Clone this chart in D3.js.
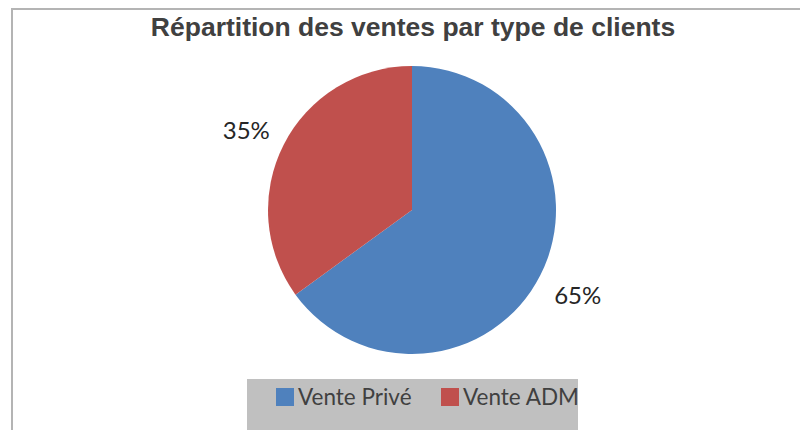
<!DOCTYPE html>
<html>
<head>
<meta charset="utf-8">
<script src="https://cdn.jsdelivr.net/npm/d3@7"></script>
<style>
  html, body { margin: 0; padding: 0; background: #fff; }
  svg { display: block; }
</style>
</head>
<body>
<svg id="chart" width="800" height="430"></svg>
<script>
const title = "Répartition des ventes par type de clients";
const categories = ["Vente Privé", "Vente ADM"];
const values = [65, 35];
const labels = ["65%", "35%"];
const colors = ["#4F81BD", "#C0504D"];

const svg = d3.select("#chart");

// chart border (top and left visible)
svg.append("path")
  .attr("d", "M12,430 L12,9 L800,9")
  .attr("fill", "none")
  .attr("stroke", "#b4b4b4")
  .attr("stroke-width", 2);

svg.append("text")
  .attr("x", 413).attr("y", 36)
  .attr("text-anchor", "middle")
  .attr("font-family", "Liberation Sans, Arial, sans-serif")
  .attr("font-weight", "bold")
  .attr("font-size", 26.5)
  .attr("fill", "#404040")
  .text(title);

const cx = 412, cy = 210, r = 144;
const pie = d3.pie().sort(null).value(d => d)(values);
const arc = d3.arc().innerRadius(0).outerRadius(r);
const labelArc = d3.arc().innerRadius(186).outerRadius(186);

const g = svg.append("g").attr("transform", `translate(${cx},${cy})`);
g.selectAll("path.slice").data(pie).join("path")
  .attr("class", "slice")
  .attr("d", arc)
  .attr("fill", (d, i) => colors[i]);

g.selectAll("text.lbl").data(pie).join("text")
  .attr("class", "lbl")
  .attr("transform", d => `translate(${labelArc.centroid(d)})`)
  .attr("text-anchor", "middle")
  .attr("dy", (d, i) => i === 1 ? "0.55em" : "0.4em")
  .attr("font-family", "Lato, 'Open Sans', sans-serif")
  .attr("font-size", 24)
  .attr("fill", "#262626")
  .text((d, i) => labels[i]);

// legend
const lg = svg.append("g");
lg.append("rect")
  .attr("x", 247).attr("y", 379).attr("width", 331).attr("height", 51)
  .attr("fill", "#c0c0c0");
const legX = [276, 441];
categories.forEach((c, i) => {
  lg.append("rect")
    .attr("x", legX[i]).attr("y", 388).attr("width", 18).attr("height", 18)
    .attr("fill", colors[i]);
  lg.append("text")
    .attr("x", legX[i] + 22).attr("y", 405)
    .attr("font-family", "Lato, 'Open Sans', sans-serif")
    .attr("font-size", 22.5)
    .attr("fill", "#404040")
    .text(c);
});
</script>
</body>
</html>
